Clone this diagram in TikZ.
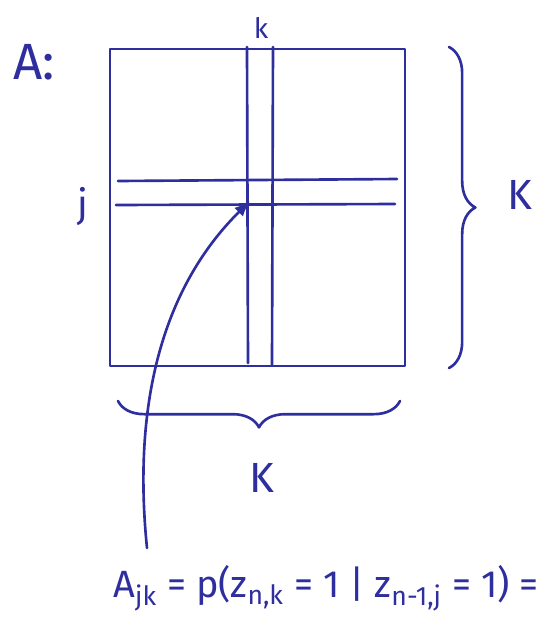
\documentclass[tikz,border=0pt]{standalone}
\usepackage{fontspec}
\setmainfont{Fira Sans}
\usetikzlibrary{arrows.meta,calc,positioning,decorations.pathreplacing}
\definecolor{ink}{HTML}{2E2E9E}

\begin{document}
\begin{tikzpicture}[x=0.02cm,y=-0.02cm,>={Latex[length=9pt,width=7pt]},
  pen/.style={ink,line width=1.5pt,line cap=round,line join=round},
  lbl/.style={ink,inner sep=0pt},
  brc/.style={pen,decorate,decoration={brace,amplitude=15pt}}]
  \useasboundingbox (0,0) rectangle (544,627);
  % the matrix A
  \coordinate (nw) at (110,49);
  \coordinate (se) at (405,366);
  \draw[pen] (nw) rectangle (se);
  % column k and row j
  \draw[pen] (247,47) -- (248,363);
  \draw[pen] (273,47) -- (272,365);
  \draw[pen] (118,181) -- (397,179);
  \draw[pen] (116,205) -- (395,204);
  \coordinate (cell) at (250,201);
  % sizes
  \draw[brc] (449,47) -- (449,368);
  \draw[brc] (400,401) -- (118,401);
  % labels
  \node[lbl,font=\fontsize{29}{29}\selectfont] (Alab) at (34,62) {A:};
  \node[lbl,font=\fontsize{16}{16}\selectfont] (klab) at (261,28) {k};
  \node[lbl,font=\fontsize{22}{22}\selectfont] (jlab) at (83,207) {j};
  \node[lbl,font=\fontsize{24}{24}\selectfont] (Kr) at (520,195) {K};
  \node[lbl,font=\fontsize{24}{24}\selectfont] (Kb) at (262,478) {K};
  \node[lbl,anchor=west,font=\fontsize{21.6}{21.6}\selectfont] (eq) at (113,588)
    {A\textsubscript{jk} = p(z\textsubscript{n,k} = 1 | z\textsubscript{n-1,j} = 1) =};
  % pointer from the formula to the entry
  \coordinate (tail) at (147,548);
  \draw[pen,->] (tail) .. controls (135,430) and (150,300) .. (cell);
\end{tikzpicture}
\end{document}
